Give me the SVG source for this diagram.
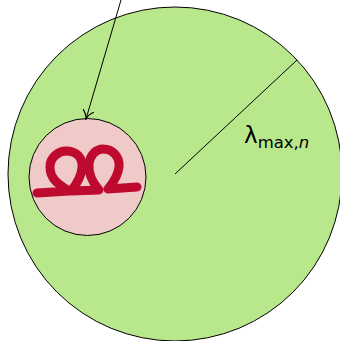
<svg xmlns="http://www.w3.org/2000/svg" width="340" height="341" viewBox="0 0 340 341">
<defs>
<style>
.ln{stroke:#000;stroke-width:1;fill:none}
.lbl{font-family:"DejaVu Sans","Liberation Sans",sans-serif;fill:#000}
</style>
<marker id="ah" viewBox="0 0 10 12" refX="9" refY="6" markerWidth="10" markerHeight="12" markerUnits="userSpaceOnUse" orient="auto">
<path d="M0,0 Q5,6 10,6 Q5,6 0,12" fill="none" stroke="#000" stroke-width="1.2"/>
</marker>
</defs>
<g id="outer">
<circle cx="175" cy="174" r="167" fill="#b9e78b" stroke="#000" stroke-width="1"/>
</g>
<g id="inner">
<circle cx="87.5" cy="177" r="58.5" fill="#f0c9c9" stroke="#000" stroke-width="1"/>
<path d="M37,193 L69,191 C60,185 50,180 50,167 C50,157 59,151 66,151 C76,151 83,157 82,168 C81,178 76,185 71,191 L99,190 C93,183 88,175 89,164 C90,155 96,149 103,149 C112,149 120,156 119,167 C118,176 113,183 108,189 L137,187" fill="none" stroke="#bf0a30" stroke-width="9" stroke-linecap="round" stroke-linejoin="round"/>
</g>
<g id="connectors">
<line class="ln" x1="175" y1="174" x2="297" y2="60"/>
<line class="ln" x1="121" y1="0" x2="86" y2="119" marker-end="url(#ah)"/>
</g>
<g id="label">
<text class="lbl" x="244" y="143" font-size="23">λ<tspan font-size="16.5" dy="5">max,<tspan font-style="italic">n</tspan></tspan></text>
</g>
</svg>
